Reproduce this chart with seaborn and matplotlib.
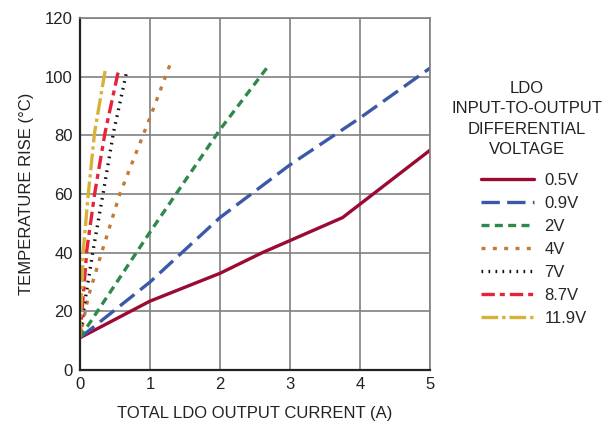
import matplotlib
matplotlib.use("Agg")
import matplotlib.pyplot as plt
import seaborn as sns
import pandas as pd

labels = ["0.5V", "0.9V", "2V", "4V", "7V", "8.7V", "11.9V"]
x_05 = [0, 1, 2, 2.6, 3.75, 5]
y_05 = [11, 23.5, 33, 40, 52, 75]
x_09 = [0, 1, 2, 3, 4, 5]
y_09 = [11, 30, 52, 70, 86, 103]
x_2 = [0, 1, 2, 2.7]
y_2 = [11, 47, 82, 104]
x_4 = [0, 0.12, 0.31, 0.57, 1.0, 1.3]
y_4 = [11, 25, 40, 60, 86, 105]
x_7 = [0, 0.07, 0.19, 0.33, 0.48, 0.67]
y_7 = [11, 23, 41, 60, 81, 102]
x_87 = [0, 0.1, 0.21, 0.36, 0.55]
y_87 = [11, 41, 60, 81, 102]
x_119 = [0, 0.05, 0.12, 0.21, 0.36]
y_119 = [11, 41, 60, 81, 102]

series = [x_05, x_09, x_2, x_4, x_7, x_87, x_119]
values = [y_05, y_09, y_2, y_4, y_7, y_87, y_119]

rows = []
for lab, xs, ys in zip(labels, series, values):
    for i, (a, b) in enumerate(zip(xs, ys)):
        rows.append({"current": a, "temp": b, "V": lab, "order": i})
df = pd.DataFrame(rows)

colors = {"0.5V": "#9a0a32", "0.9V": "#3c58a8", "2V": "#2e8a4c", "4V": "#c27a3c",
          "7V": "#111111", "8.7V": "#e5243a", "11.9V": "#d6b23a"}
dashes = {"0.5V": "", "0.9V": (5.5, 2.2), "2V": (2.4, 1.6), "4V": (1.2, 2.2),
          "7V": (0.5, 1.6), "8.7V": (4, 1.5, 1.5, 1.5), "11.9V": (5, 1.2, 1, 1.2)}

sns.set_style("white")
plt.rcParams['font.family'] = ['Liberation Sans', 'DejaVu Sans']
FS = 12

fig = plt.figure(figsize=(6.05, 4.22), dpi=100)
ax = fig.add_axes([0.132, 0.123, 0.579, 0.834])

sns.lineplot(data=df, x="current", y="temp", hue="V", style="V",
             hue_order=labels, style_order=labels, palette=colors,
             dashes=dashes, sort=False, estimator=None, units="V",
             linewidth=2.4, ax=ax, legend=True)

ax.set_xlim(0, 5)
ax.set_ylim(0, 120)
ax.set_xticks(range(0, 6))
ax.set_yticks(range(0, 121, 20))
ax.grid(True, color="#808080", linewidth=1.2)
ax.set_axisbelow(True)
for s in ["top", "right"]:
    ax.spines[s].set_color("#808080")
    ax.spines[s].set_linewidth(1.2)
for s in ["left", "bottom"]:
    ax.spines[s].set_color("#222222")
    ax.spines[s].set_linewidth(1.6)
ax.tick_params(axis="both", labelsize=FS, colors="#222222", length=0, pad=5)
ax.set_xlabel("TOTAL LDO OUTPUT CURRENT (A)", fontsize=FS, color="#222222", labelpad=10)
ax.set_ylabel("TEMPERATURE RISE (°C)", fontsize=FS, color="#222222", labelpad=8)

handles, labs = ax.get_legend_handles_labels()
ax.get_legend().remove()
for h in handles:
    h.set_linewidth(2.4)
leg = fig.legend(handles, labs, loc="upper left", bbox_to_anchor=(0.795, 0.59),
                 frameon=False, fontsize=FS, handlelength=3.2, labelspacing=0.48,
                 handletextpad=0.6, borderaxespad=0, borderpad=0)
fig.text(0.871, 0.718, "LDO\nINPUT-TO-OUTPUT\nDIFFERENTIAL\nVOLTAGE", ha="center",
         va="center", fontsize=FS, color="#222222", linespacing=1.45)

fig.savefig("out.png", dpi=100)
